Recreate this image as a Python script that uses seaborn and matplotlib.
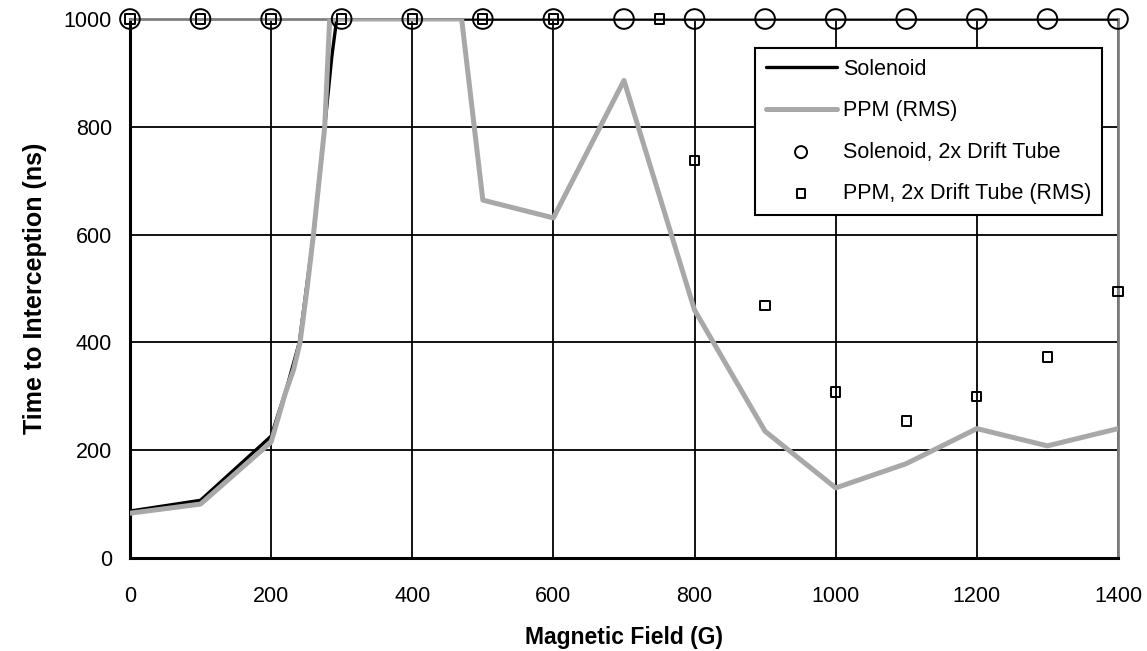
import seaborn as sns
import matplotlib.pyplot as plt

# Data
sol_field = [0, 100, 200, 222, 240, 260, 276, 286, 293, 400, 600, 800, 1000, 1200, 1400]
sol_time = [87, 107, 226, 315, 400, 600, 800, 930, 1000, 1000, 1000, 1000, 1000, 1000, 1000]

ppm_field = [0, 100, 200, 220, 232, 241, 251, 260, 268, 276, 283, 400, 470, 500, 600, 700,
             800, 900, 1000, 1100, 1200, 1300, 1400]
ppm_time = [83, 100, 215, 305, 350, 400, 500, 600, 700, 800, 1000, 1000, 1000, 664, 631, 886,
            460, 235, 130, 175, 240, 208, 240]

sol2x_field = [0, 100, 200, 300, 400, 500, 600, 700, 800, 900, 1000, 1100, 1200, 1300, 1400]
sol2x_time = [1000] * 15

ppm2x_field = [0, 100, 200, 300, 400, 500, 600, 750, 800, 900, 1000, 1100, 1200, 1300, 1400]
ppm2x_time = [1000, 1000, 1000, 1000, 1000, 1000, 1000, 1000, 738, 469, 308, 254, 300, 373, 494]

sns.set_style("white", {'text.color': 'black', 'axes.labelcolor': 'black',
                        'xtick.color': 'black', 'ytick.color': 'black'})
plt.rcParams['font.family'] = ['Liberation Sans', 'DejaVu Sans']

fig = plt.figure(figsize=(11.47, 6.51), dpi=100)
ax = fig.add_axes([0.1133, 0.1429, 0.8614, 0.8279])

sns.lineplot(x=sol_field, y=sol_time, ax=ax, color='black', linewidth=2.4,
             label='Solenoid', sort=False, zorder=4)
sns.lineplot(x=ppm_field, y=ppm_time, ax=ax, color='#a8a8a8', linewidth=3.6,
             label='PPM (RMS)', sort=False, zorder=5)
sns.scatterplot(x=sol2x_field, y=sol2x_time, ax=ax, marker='o', s=200,
                facecolor='none', edgecolor='black', linewidth=1.4,
                label='Solenoid, 2x Drift Tube', zorder=6, clip_on=False)
sns.scatterplot(x=ppm2x_field, y=ppm2x_time, ax=ax, marker='s', s=45,
                facecolor='none', edgecolor='black', linewidth=1.4,
                label='PPM, 2x Drift Tube (RMS)', zorder=6, clip_on=False)

ax.set_xlim(0, 1400)
ax.set_ylim(0, 1000)
ax.set_xticks(range(0, 1401, 200))
ax.set_yticks(range(0, 1001, 200))
ax.grid(True, color='black', linewidth=1.3)
ax.set_axisbelow(True)

for side in ['left', 'bottom']:
    ax.spines[side].set_color('black')
    ax.spines[side].set_linewidth(2.2)
for side in ['top', 'right']:
    ax.spines[side].set_color('#808080')
    ax.spines[side].set_linewidth(2)
    ax.spines[side].set_visible(True)

ax.tick_params(axis='both', direction='out', length=6, width=1.3,
               color='black', labelcolor='black', labelsize=15.5, pad=7)
ax.tick_params(axis='x', pad=14)

ax.set_xlabel('Magnetic Field (G)', fontsize=16.5, fontweight='bold', labelpad=14, color='black')
ax.set_ylabel('Time to Interception (ns)', fontsize=18, fontweight='bold', labelpad=12, color='black')

leg = ax.legend(loc='upper right', bbox_to_anchor=(0.984, 0.946), borderaxespad=0,
                fontsize=15.5, frameon=True, fancybox=False, framealpha=1,
                edgecolor='black', handlelength=3.3, labelspacing=0.95,
                borderpad=0.5, handletextpad=0.3)
leg.get_frame().set_linewidth(1.5)
leg.set_zorder(10)
handles = leg.legend_handles
handles[2].set_sizes([75])
handles[3].set_sizes([40])

fig.savefig('out.png', dpi=100)
